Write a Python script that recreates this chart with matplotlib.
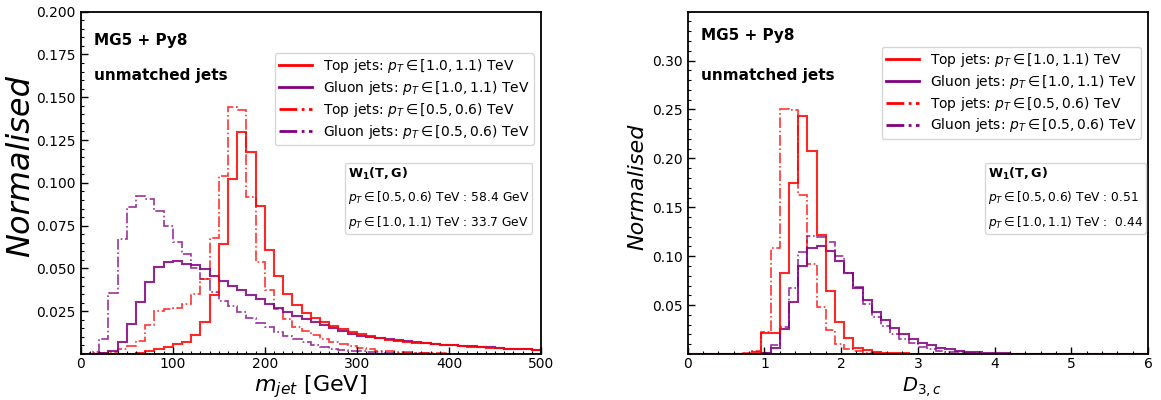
import numpy as np
import matplotlib
matplotlib.use("Agg")
import matplotlib.pyplot as plt
from matplotlib.lines import Line2D
from matplotlib.ticker import MultipleLocator, FormatStrFormatter

# ---------------- data ----------------
mass_edges = np.linspace(0, 500, 51)      # 10 GeV bins
d3c_edges = np.linspace(0, 6, 51)         # 0.12 bins

# m_jet, normalised per bin
mass_top_hi = [0, 0, 0, 0, 0, 0, 0.0008, 0.0016, 0.0030, 0.0041,
               0.0057, 0.0072, 0.0111, 0.0185, 0.0345, 0.0645, 0.1025, 0.1295, 0.1182, 0.0867,
               0.0606, 0.0455, 0.0350, 0.0285, 0.0241, 0.0208, 0.0186, 0.0162, 0.0146, 0.0130,
               0.0115, 0.0104, 0.0091, 0.0084, 0.0078, 0.0072, 0.0067, 0.0062, 0.0058, 0.0054,
               0.0050, 0.0046, 0.0043, 0.0040, 0.0037, 0.0034, 0.0031, 0.0029, 0.0027, 0.0025]
mass_gluon_hi = [0, 0, 0.0005, 0.0015, 0.0072, 0.0175, 0.0302, 0.0423, 0.0506, 0.0536,
                 0.0543, 0.0526, 0.0518, 0.0499, 0.0458, 0.0428, 0.0397, 0.0374, 0.0345, 0.0319,
                 0.0294, 0.0267, 0.0243, 0.0222, 0.0204, 0.0188, 0.0168, 0.0150, 0.0133, 0.0119,
                 0.0108, 0.0100, 0.0093, 0.0086, 0.0080, 0.0074, 0.0069, 0.0064, 0.0059, 0.0055,
                 0.0051, 0.0047, 0.0044, 0.0041, 0.0038, 0.0035, 0.0032, 0.0030, 0.0028, 0.0026]
mass_top_lo = [0, 0.0003, 0.0008, 0.0014, 0.0027, 0.0047, 0.0077, 0.0171, 0.0252, 0.0261,
               0.0271, 0.0292, 0.0353, 0.0436, 0.0676, 0.1040, 0.1443, 0.1428, 0.0919, 0.0539,
               0.0374, 0.0262, 0.0206, 0.0160, 0.0133, 0.0110, 0.0090, 0.0072, 0.0057, 0.0044,
               0.0034, 0.0027, 0.0020, 0.0015, 0.0012, 0.0009, 0.0007, 0.0005, 0.0004, 0.0003,
               0.0002, 0.0002, 0.0001, 0.0001, 0, 0, 0, 0, 0, 0]
mass_gluon_lo = [0, 0.0010, 0.0090, 0.0358, 0.0670, 0.0857, 0.0921, 0.0904, 0.0836, 0.0745,
                 0.0653, 0.0583, 0.0501, 0.0436, 0.0364, 0.0310, 0.0278, 0.0245, 0.0212, 0.0179,
                 0.0156, 0.0127, 0.0107, 0.0086, 0.0068, 0.0053, 0.0041, 0.0032, 0.0025, 0.0019,
                 0.0015, 0.0012, 0.0009, 0.0007, 0.0005, 0.0004, 0.0003, 0.0003, 0.0002, 0.0002,
                 0.0001, 0.0001, 0.0001, 0.0001, 0.0001, 0, 0, 0, 0, 0]

# D_{3,c}, normalised per bin
d3c_top_hi = [0, 0, 0, 0, 0, 0, 0, 0.0024, 0.0218, 0.0215,
              0.0825, 0.1750, 0.2430, 0.2080, 0.1220, 0.0640, 0.0330, 0.0160, 0.0065, 0.0038,
              0.0024, 0.0015, 0.0010, 0.0007, 0.0005, 0.0003, 0, 0, 0, 0,
              0, 0, 0, 0, 0, 0, 0, 0, 0, 0,
              0, 0, 0, 0, 0, 0, 0, 0, 0, 0]
d3c_gluon_hi = [0, 0, 0, 0, 0, 0, 0, 0, 0.0010, 0.0063,
                0.0260, 0.0535, 0.0900, 0.1085, 0.1104, 0.1055, 0.0950, 0.0825, 0.0676, 0.0552,
                0.0430, 0.0348, 0.0263, 0.0200, 0.0157, 0.0115, 0.0088, 0.0066, 0.0048, 0.0035,
                0.0025, 0.0018, 0.0013, 0.0009, 0.0006, 0.0004, 0.0003, 0.0002, 0.0001, 0,
                0, 0, 0, 0, 0, 0, 0, 0, 0, 0]
d3c_top_lo = [0, 0, 0, 0, 0, 0, 0.0008, 0.0034, 0.0220, 0.1080,
              0.2505, 0.2498, 0.1630, 0.0920, 0.0477, 0.0248, 0.0100, 0.0055, 0.0030, 0.0015,
              0.0008, 0.0005, 0.0003, 0.0002, 0, 0, 0, 0, 0, 0,
              0, 0, 0, 0, 0, 0, 0, 0, 0, 0,
              0, 0, 0, 0, 0, 0, 0, 0, 0, 0]
d3c_gluon_lo = [0, 0, 0, 0, 0, 0, 0, 0, 0.0010, 0.0092,
                0.0280, 0.0672, 0.1038, 0.1208, 0.1195, 0.1143, 0.1003, 0.0825, 0.0680, 0.0510,
                0.0380, 0.0285, 0.0205, 0.0150, 0.0109, 0.0075, 0.0052, 0.0035, 0.0024, 0.0016,
                0.0011, 0.0007, 0.0005, 0.0003, 0.0002, 0.0001, 0, 0, 0, 0,
                0, 0, 0, 0, 0, 0, 0, 0, 0, 0]

legend_labels = [r"Top jets: $p_T \in [1.0, 1.1)$ TeV",
                 r"Gluon jets: $p_T \in [1.0, 1.1)$ TeV",
                 r"Top jets: $p_T \in [0.5, 0.6)$ TeV",
                 r"Gluon jets: $p_T \in [0.5, 0.6)$ TeV"]
w1_title = r"$\mathbf{W_1(T, G)}$"
w1_mass = [r"$p_T \in [0.5, 0.6)$ TeV : 58.4 GeV", r"$p_T \in [1.0, 1.1)$ TeV : 33.7 GeV"]
w1_d3c = [r"$p_T \in [0.5, 0.6)$ TeV : 0.51", r"$p_T \in [1.0, 1.1)$ TeV :  0.44"]

RED = "#ff0000"
PURPLE = "#800080"

fig = plt.figure(figsize=(11.61, 4.0), dpi=100)
ax1 = fig.add_axes([0.0695, 0.115, 0.3965, 0.8558])
ax2 = fig.add_axes([0.5923, 0.115, 0.3965, 0.8558])


def draw(ax, edges, top_hi, gl_hi, top_lo, gl_lo, w1_lines, leg_anchor, w1_anchor, txt_y):
    ax.stairs(gl_lo, edges, color=PURPLE, lw=1.2, ls="-.", alpha=0.8)
    ax.stairs(top_lo, edges, color=RED, lw=1.2, ls="-.", alpha=0.8)
    ax.stairs(gl_hi, edges, color=PURPLE, lw=1.5, alpha=0.85)
    ax.stairs(top_hi, edges, color=RED, lw=1.5, alpha=0.85)

    handles = [Line2D([], [], color=RED, lw=2),
               Line2D([], [], color=PURPLE, lw=2),
               Line2D([], [], color=RED, lw=2, ls="-."),
               Line2D([], [], color=PURPLE, lw=2, ls="-.")]
    leg = ax.legend(handles, legend_labels, loc="upper right", bbox_to_anchor=leg_anchor,
                    borderaxespad=0, fontsize=10, handlelength=2.4, labelspacing=0.28,
                    borderpad=0.3)
    ax.add_artist(leg)

    h2 = [Line2D([], [], alpha=0) for _ in w1_lines]
    ax.legend(h2, w1_lines, title=w1_title, loc="upper right", bbox_to_anchor=w1_anchor,
              borderaxespad=0, fontsize=8.8, title_fontsize=9.2, handlelength=0,
              handletextpad=0, labelspacing=0.6, borderpad=0.25, alignment="left")

    ax.text(0.03, txt_y[0], "MG5 + Py8", transform=ax.transAxes, fontsize=11,
            fontweight="bold", va="center", ha="left")
    ax.text(0.03, txt_y[1], "unmatched jets", transform=ax.transAxes, fontsize=11,
            fontweight="bold", va="center", ha="left")

    ax.tick_params(which="both", direction="in", top=False, right=False, labelsize=10)
    ax.tick_params(which="major", length=5, width=1)
    ax.tick_params(which="minor", length=2.5, width=0.8)
    ax.tick_params(axis="x", which="major", pad=2.5)
    for s in ax.spines.values():
        s.set_linewidth(1.3)


draw(ax1, mass_edges, mass_top_hi, mass_gluon_hi, mass_top_lo, mass_gluon_lo,
     w1_mass, (0.985, 0.879), (0.9805, 0.558), (0.915, 0.815))
draw(ax2, d3c_edges, d3c_top_hi, d3c_gluon_hi, d3c_top_lo, d3c_gluon_lo,
     w1_d3c, (0.985, 0.898), (0.9957, 0.558), (0.93, 0.815))

ax1.set_xlim(0, 500)
ax1.set_ylim(0, 0.2)
ax1.set_xticks(np.arange(0, 501, 100))
ax1.xaxis.set_minor_locator(MultipleLocator(10))
ax1.set_yticks(np.arange(0.025, 0.2001, 0.025))
ax1.yaxis.set_major_formatter(FormatStrFormatter("%.3f"))
ax1.yaxis.set_minor_locator(MultipleLocator(0.005))
ax1.set_xlabel(r"$m_{jet}$ [GeV]", fontsize=16)
ax1.xaxis.label.set_va("bottom")
ax1.xaxis.set_label_coords(0.5, -0.1345)
ax1.set_ylabel("Normalised", fontsize=23, style="italic")
ax1.yaxis.set_label_coords(-0.097, 0.549)

ax2.set_xlim(0, 6)
ax2.set_ylim(0, 0.35)
ax2.set_xticks(np.arange(0, 7, 1))
ax2.xaxis.set_minor_locator(MultipleLocator(0.2))
ax2.set_yticks(np.arange(0.05, 0.301, 0.05))
ax2.yaxis.set_major_formatter(FormatStrFormatter("%.2f"))
ax2.yaxis.set_minor_locator(MultipleLocator(0.01))
ax2.set_xlabel(r"$D_{3,c}$", fontsize=14)
ax2.xaxis.label.set_va("bottom")
ax2.xaxis.set_label_coords(0.51, -0.13)
ax2.set_ylabel("Normalised", fontsize=16, style="italic")
ax2.yaxis.set_label_coords(-0.088, 0.488)

fig.savefig("out.png", dpi=100)
